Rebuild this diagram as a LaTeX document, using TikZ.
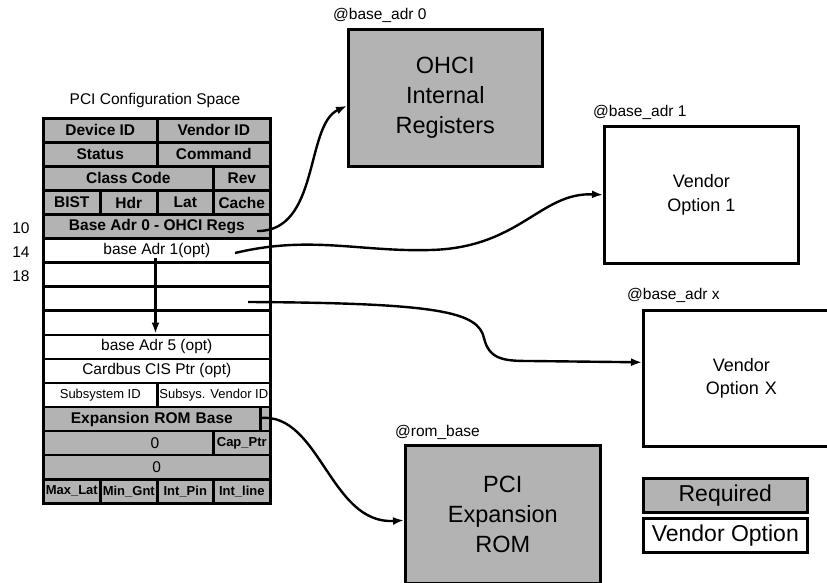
\documentclass[tikz,border=0pt]{standalone}
\usepackage{fontspec}
\setmainfont{Liberation Sans}
\usetikzlibrary{arrows.meta}
\definecolor{reqgray}{RGB}{179,179,179}
\tikzset{
  cellbase/.style={draw, line width=2.6pt, inner sep=0pt, minimum height=24.06pt, anchor=north west},
  req/.style={cellbase, fill=reqgray, font=\bfseries\fontsize{15.5}{18}\selectfont},
  reqs/.style={cellbase, fill=reqgray, font=\bfseries\fontsize{13}{15}\selectfont},
  opt/.style={cellbase, fill=white, font=\fontsize{15.5}{18}\selectfont},
  opts/.style={cellbase, fill=white, font=\fontsize{13}{15}\selectfont},
  bigreq/.style={draw, line width=2.6pt, fill=reqgray, inner sep=0pt, anchor=north west, align=center, font=\fontsize{23.5}{30}\selectfont},
  bigopt/.style={draw, line width=2.6pt, fill=white, inner sep=0pt, anchor=north west, align=center, font=\fontsize{18}{23.5}\selectfont},
  lbl/.style={inner sep=0pt, anchor=west, font=\fontsize{15.5}{18}\selectfont},
  conn/.style={line width=2.4pt, -{Latex[length=11pt,width=8pt]}}
}
\begin{document}
\begin{tikzpicture}[x=1pt,y=-1pt]
\useasboundingbox (0,0) rectangle (827,583);
% title
\node[inner sep=0pt, font=\fontsize{15.5}{18}\selectfont] (title) at (155,100) {PCI Configuration Space};
% offset labels
\node[inner sep=0pt, font=\fontsize{15.5}{18}\selectfont] (o10) at (21,228) {10};
\node[inner sep=0pt, font=\fontsize{15.5}{18}\selectfont] (o14) at (21,252) {14};
\node[inner sep=0pt, font=\fontsize{15.5}{18}\selectfont] (o18) at (21,276) {18};
% row 0
\node[req, minimum width=114] (devid) at (42,117) {Device ID};
\node[req, minimum width=113] (venid) at (156,117) {Vendor ID};
% row 1
\node[req, minimum width=114] (status) at (42,141.06) {Status};
\node[req, minimum width=113] (command) at (156,141.06) {Command};
% row 2
\node[req, minimum width=170] (class) at (42,165.12) {Class Code};
\node[req, minimum width=57] (rev) at (212,165.12) {Rev};
% row 3
\node[req, minimum width=57] (bist) at (42,189.18) {BIST};
\node[req, minimum width=57] (hdr) at (99,189.18) {Hdr};
\node[req, minimum width=56] (lat) at (156,189.18) {Lat};
\node[req, minimum width=57] (cache) at (212,189.18) {Cache};
% row 4
\node[req, minimum width=227] (b0) at (42,213.24) {Base Adr 0 - OHCI Regs};
% row 5
\node[opt, minimum width=227] (b1) at (42,237.3) {base Adr 1(opt)};
% rows 6-8
\node[opt, minimum width=227] (b2) at (42,261.36) {};
\node[opt, minimum width=227] (b3) at (42,285.42) {};
\node[opt, minimum width=227] (b4) at (42,309.48) {};
% row 9
\node[opt, minimum width=227] (b5) at (42,333.54) {base Adr 5 (opt)};
% row 10
\node[opt, minimum width=227] (cis) at (42,357.6) {Cardbus CIS Ptr (opt)};
% row 11
\node[opts, minimum width=114] (subid) at (42,381.66) {Subsystem ID};
\node[opts, minimum width=113] (subvid) at (156,381.66) {Subsys. Vendor ID};
% row 12
\node[req, minimum width=217, text width=200, align=center] (rom0) at (42,405.72) {Expansion ROM Base};
\node[req, minimum width=10] (romsm) at (259,405.72) {};
% row 13
\node[req, minimum width=170] (z1) at (42,429.78) {};
\node[font=\fontsize{15.5}{18}\selectfont, inner sep=0pt] (z1t) at (155,443) {0};
\node[reqs, minimum width=57] (cap) at (212,429.78) {Cap\_Ptr};
% row 14
\node[req, minimum width=227, font=\fontsize{15.5}{18}\selectfont] (z2) at (42,453.84) {0};
% row 15
\node[reqs, minimum width=57] (maxlat) at (42,477.9) {Max\_Lat};
\node[reqs, minimum width=57] (mingnt) at (99,477.9) {Min\_Gnt};
\node[reqs, minimum width=56] (intpin) at (156,477.9) {Int\_Pin};
\node[reqs, minimum width=57] (intline) at (212,477.9) {Int\_line};
% big boxes
\node[bigreq, minimum width=194, minimum height=137] (ohci) at (347,28) {OHCI\\Internal\\Registers};
\node[lbl] (l0) at (333,15) {@base\_adr 0};
\node[bigopt, minimum width=194, minimum height=137] (v1) at (603,125) {Vendor\\Option 1};
\node[lbl] (l1) at (593,112) {@base\_adr 1};
\node[bigopt, minimum width=192, minimum height=136, text width=190] (vx) at (642,309) {\hspace*{4pt}Vendor\\\hspace*{4pt}Option X};
\node[lbl] (lx) at (627,295) {@base\_adr x};
\node[bigreq, minimum width=195, minimum height=138] (rom) at (404,444) {PCI\\Expansion\\ROM};
\node[lbl] (lr) at (395,432) {@rom\_base};
% legend
\node[bigreq, minimum width=164, minimum height=34, font=\fontsize{23}{28}\selectfont] (lgreq) at (642,477) {Required};
\node[bigreq, fill=white, minimum width=164, minimum height=34, font=\fontsize{23}{28}\selectfont] (lgopt) at (642,517) {Vendor Option};
% connectors
\coordinate (s0) at (257,231);
\coordinate (s1) at (235,253);
\coordinate (s2) at (248,302);
\coordinate (s3) at (260,418);
\coordinate (s4) at (155.5,258);
\draw[conn] (s0) .. controls (320,232) and (305,125) .. ([yshift=-8pt]ohci.west);
\draw[conn] (s1) .. controls (310,235) and (360,252) .. (430,250) .. controls (520,248) and (540,192) .. (v1.west);
\draw[conn] (s2) .. controls (440,303) and (478,312) .. (484,338) .. controls (489,360) and (505,361) .. (530,361) -- ([yshift=16pt]vx.west);
\draw[conn] (s3) .. controls (320,412) and (330,525) .. ([yshift=-6pt]rom.west);
\draw[conn] (s4) -- (s4 |- b5.north);
\end{tikzpicture}
\end{document}
